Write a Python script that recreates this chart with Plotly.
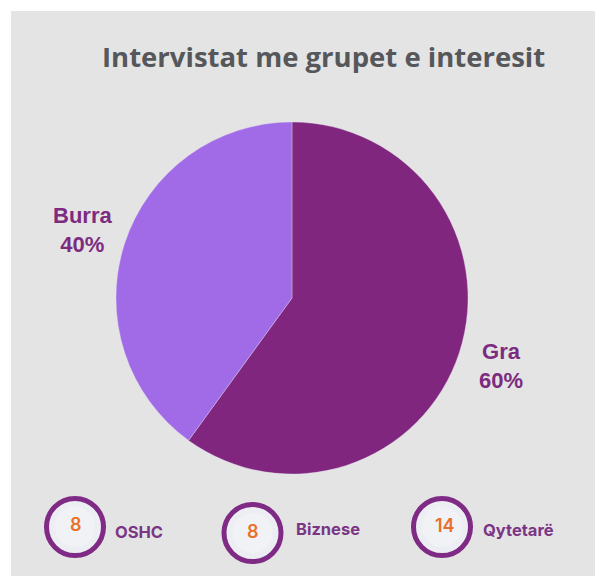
import math
import plotly.graph_objects as go

# ---------------- data ----------------
title_text = "Intervistat me grupet e interesit"
slice_labels = ["Gra", "Burra"]
slice_values = [60, 40]
slice_colors = ["#80267e", "#a16ae7"]

group_labels = ["OSHC", "Biznese", "Qytetarë"]
group_counts = [8, 8, 14]

# ---------------- layout constants ----------------
# the page puts the figure 8px in from the top-left corner of the window
OFF = 8
W, H = 603, 576 - OFF
PANEL_LEFT, PANEL_TOP = 11, 11
PIE_CX, PIE_CY, PIE_R = 292, 298, 176
LABEL_R = 220
LABEL_COLOR = "#7d2b80"

# bottom counter badges (window pixel positions)
badge_centers = [(75, 527), (252.5, 533), (442, 527)]
badge_radius = 28.5
number_offsets = [(1, -3), (0, -2), (3, -2)]
label_pos = [(113, 532), (294, 529), (481, 530)]


def px(x):
    return (x - OFF) / W


def py(y):
    return 1 - (y - OFF) / H


fig = go.Figure()

fig.add_trace(go.Pie(
    labels=slice_labels,
    values=slice_values,
    marker=dict(colors=slice_colors, line=dict(width=0.6, color="rgba(230,220,240,0.6)")),
    sort=False,
    direction="clockwise",
    rotation=0,
    textinfo="none",
    hoverinfo="label+percent",
    showlegend=False,
    domain=dict(x=[px(PIE_CX - PIE_R), px(PIE_CX + PIE_R)],
                y=[py(PIE_CY + PIE_R), py(PIE_CY - PIE_R)]),
))

annotations = []
shapes = []

# grey panel
shapes.append(dict(type="rect", xref="paper", yref="paper",
                   x0=px(PANEL_LEFT), x1=1.02, y0=-0.02, y1=py(PANEL_TOP),
                   fillcolor="#e4e4e4", line=dict(width=0), layer="below"))

# title
annotations.append(dict(text=title_text, xref="paper", yref="paper",
                        x=px(324), y=py(57), xanchor="center", yanchor="middle",
                        showarrow=False,
                        font=dict(family="Open Sans", size=27.5, color="#55575a", weight=700)))

# pie labels computed from the data
total = sum(slice_values)
cum = 0
for lab, val in zip(slice_labels, slice_values):
    frac = val / total
    mid = (cum + frac / 2) * 2 * math.pi
    cum += frac
    lx = PIE_CX + LABEL_R * math.sin(mid)
    ly = PIE_CY - LABEL_R * math.cos(mid)
    annotations.append(dict(
        text=f"<b>{lab}</b><br><b>{round(frac * 100)}%</b>",
        xref="paper", yref="paper", x=px(lx), y=py(ly),
        xanchor="center", yanchor="middle", showarrow=False, align="center",
        font=dict(family="Liberation Sans", size=22, color=LABEL_COLOR)))

# bottom badges
for (cx, cy), (ox, oy), (lx, ly), cnt, lab in zip(badge_centers, number_offsets, label_pos,
                                                   group_counts, group_labels):
    shapes.append(dict(type="circle", xref="paper", yref="paper",
                       x0=px(cx - badge_radius), x1=px(cx + badge_radius),
                       y0=py(cy + badge_radius), y1=py(cy - badge_radius),
                       fillcolor="#eceef3", line=dict(color="#7f2a85", width=5)))
    shapes.append(dict(type="circle", xref="paper", yref="paper",
                       x0=px(cx - 20), x1=px(cx + 20),
                       y0=py(cy + 20), y1=py(cy - 20),
                       fillcolor="#f1f2f6", line=dict(width=0)))
    annotations.append(dict(text=str(cnt), xref="paper", yref="paper",
                            x=px(cx + ox), y=py(cy + oy), xanchor="center", yanchor="middle",
                            showarrow=False,
                            font=dict(family="Inter", size=18, color="#e8702a", weight=600)))
    annotations.append(dict(text=lab, xref="paper", yref="paper",
                            x=px(lx), y=py(ly), xanchor="left", yanchor="middle",
                            showarrow=False,
                            font=dict(family="Inter", size=16.5, color="#7a3585", weight=700)))

fig.update_layout(
    width=W, height=H, autosize=False,
    margin=dict(l=0, r=0, t=0, b=0, pad=0),
    paper_bgcolor="#ffffff",
    plot_bgcolor="#ffffff",
    shapes=shapes,
    annotations=annotations,
)

fig.write_html("out.html")
